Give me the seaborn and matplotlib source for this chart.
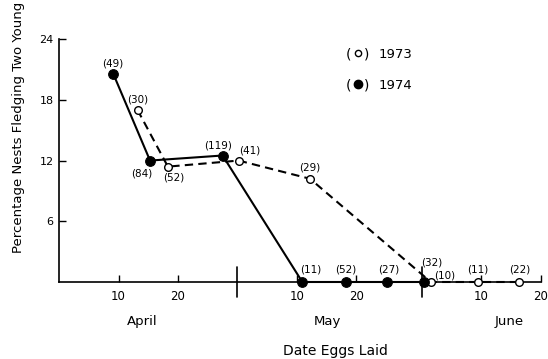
import matplotlib
matplotlib.use("Agg")
import matplotlib.pyplot as plt
import seaborn as sns
import pandas as pd

# Day numbers counted from March 31 (April 1 = 1, May 1 = 31, June 1 = 62)
days_1973 = [13.2, 18.3, 30.2, 42.2, 62.5, 70.4, 77.4]
pct_1973 = [17.0, 11.4, 12.0, 10.2, 0.0, 0.0, 0.0]
n_1973 = ["(30)", "(52)", "(41)", "(29)", "(10)", "(11)", "(22)"]

days_1974 = [9.1, 15.3, 27.5, 40.9, 48.2, 55.2, 61.3]
pct_1974 = [20.6, 12.0, 12.5, 0.0, 0.0, 0.0, 0.0]
n_1974 = ["(49)", "(84)", "(119)", "(11)", "(52)", "(27)", "(32)"]

# label offsets in points (dx, dy)
off_1973 = [(0, 7.5), (4, -8), (8, 7.5), (0, 8), (10, 5), (0, 9), (0, 9)]
off_1974 = [(0, 7.5), (-6, -9), (-3, 7.5), (6, 9), (0, 9), (1, 9), (6, 14)]

month_ticks = [10, 20, 40, 50, 71, 81]
month_tick_labels = ["10", "20", "10", "20", "10", "20"]
month_names = ["April", "May", "June"]
month_centers = [13.9, 45.2, 75.6]
month_bounds = [30, 61]
y_ticks = [6, 12, 18, 24]
legend_years = ["1973", "1974"]

sns.set_theme(style="white")
plt.rcParams['font.family'] = ['DejaVu Sans']
plt.rcParams['text.color'] = 'black'
plt.rcParams['xtick.color'] = 'black'
plt.rcParams['ytick.color'] = 'black'

fig = plt.figure(figsize=(5.48, 3.59), dpi=100)
ax = fig.add_axes([0.1077, 0.2145, 0.8793, 0.6765])

df73 = pd.DataFrame({"day": days_1973, "pct": pct_1973})
df74 = pd.DataFrame({"day": days_1974, "pct": pct_1974})

sns.lineplot(data=df73, x="day", y="pct", ax=ax, color="black", linewidth=1.5,
             linestyle=(0, (4, 2.5)), marker="o", markersize=5.5,
             markerfacecolor="white", markeredgecolor="black", markeredgewidth=1.0,
             sort=False, clip_on=False, zorder=3)
sns.lineplot(data=df74, x="day", y="pct", ax=ax, color="black", linewidth=1.5,
             marker="o", markersize=7, markerfacecolor="black", markeredgecolor="black",
             sort=False, clip_on=False, zorder=4)

for x, y, t, (dx, dy) in zip(days_1973, pct_1973, n_1973, off_1973):
    ax.annotate(t, (x, y), xytext=(dx, dy), textcoords="offset points",
                ha="center", va="center", fontsize=7.5, color="black")
for x, y, t, (dx, dy) in zip(days_1974, pct_1974, n_1974, off_1974):
    ax.annotate(t, (x, y), xytext=(dx, dy), textcoords="offset points",
                ha="center", va="center", fontsize=7.5, color="black")

ax.set_xlim(0, 81)
ax.set_ylim(0, 24)
for s in ["top", "right"]:
    ax.spines[s].set_visible(False)
for s in ["left", "bottom"]:
    ax.spines[s].set_color("black")
    ax.spines[s].set_linewidth(1.2)

ax.set_yticks(y_ticks)
ax.set_yticklabels([str(v) for v in y_ticks], fontsize=8)
ax.set_xticks(month_ticks)
ax.set_xticklabels(month_tick_labels, fontsize=8.5)
ax.tick_params(axis="y", direction="in", length=5, width=1, color="black", pad=4, left=True)
ax.tick_params(axis="x", direction="in", length=5, width=1, color="black", pad=6, bottom=True)
ax.set_xlabel("")
ax.set_ylabel("")

for b in month_bounds:
    ax.plot([b, b], [-1.5, 1.5], color="black", linewidth=1.2, clip_on=False)

for name, c in zip(month_names, month_centers):
    ax.text(c, -3.9, name, ha="center", va="center", fontsize=9.5)

fig.text(0.612, 0.022, "Date Eggs Laid", ha="center", va="center", fontsize=10)
fig.text(0.033, 0.645, "Percentage Nests Fledging Two Young", ha="center", va="center",
         rotation=90, fontsize=9.5)

# legend: "(o) 1973" / "(●) 1974"
leg_y = [0.938, 0.811]
leg_face = ["white", "black"]
leg_size = [4.5, 6]
for yr, ly, fc, ms in zip(legend_years, leg_y, leg_face, leg_size):
    ax.text(0.595, ly, "(", transform=ax.transAxes, ha="left", va="center", fontsize=10)
    ax.text(0.643, ly, ")", transform=ax.transAxes, ha="right", va="center", fontsize=10)
    ax.text(0.664, ly, yr, transform=ax.transAxes, ha="left", va="center", fontsize=9.5)
    ax.plot([0.620], [ly + 0.004], transform=ax.transAxes, marker="o", markersize=ms,
            markerfacecolor=fc, markeredgecolor="black", markeredgewidth=1.0,
            linestyle="none", clip_on=False)

fig.savefig("out.png", dpi=100)
